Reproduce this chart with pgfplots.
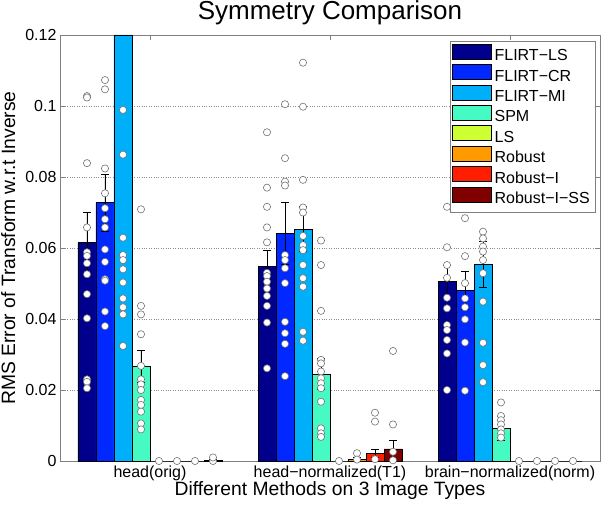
\documentclass[border=0pt]{standalone}
\usepackage{fontspec}
\setmainfont{Liberation Sans}
\usepackage{pgfplots}
\pgfplotsset{compat=1.18}
\definecolor{cA}{RGB}{0,0,140}
\definecolor{cB}{RGB}{0,40,255}
\definecolor{cC}{RGB}{0,175,250}
\definecolor{cD}{RGB}{70,250,195}
\definecolor{cE}{RGB}{205,255,50}
\definecolor{cF}{RGB}{255,155,0}
\definecolor{cG}{RGB}{255,30,0}
\definecolor{cH}{RGB}{128,0,0}
\definecolor{axgray}{RGB}{128,128,128}
\pgfplotsset{
  mybar/.style={ybar, bar width=0.1, bar shift=0pt, draw=black, line width=0.7pt, fill=#1,
    error bars/.cd, y dir=both, y explicit,
    error bar style={black, line width=0.7pt},
    error mark options={rotate=90, black, mark size=4pt, line width=0.7pt},
    /pgfplots/.cd,
    legend image code/.code={\draw[fill=#1, draw=black, line width=0.7pt] (0pt,-2.5pt) rectangle (39pt,12.5pt);}},
  mypts/.style={only marks, mark=*, mark size=3.6pt,
    mark options={fill=white, draw=black!55, line width=0.6pt}, forget plot}
}
\begin{document}
\begin{tikzpicture}
\useasboundingbox (-60pt,-43pt) rectangle (542pt,461pt);
\begin{axis}[
  at={(0pt,0pt)}, anchor=south west, scale only axis,
  width=540pt, height=426pt, clip=false,
  xmin=0.5, xmax=3.5, ymin=0, ymax=0.12,
  xtick={1,2,3},
  xticklabels={head(orig), head−normalized(T1), brain−normalized(norm)},
  ytick={0,0.02,0.04,0.06,0.08,0.1,0.12},
  yticklabels={0,0.02,0.04,0.06,0.08,0.1,0.12},
  tick align=inside, major tick length=5pt,
  axis line style={draw=axgray},
  every tick/.style={draw=axgray},
  ymajorgrids, grid style={dotted, black!45},
  tick label style={font=\fontsize{16}{16}\selectfont},
  xticklabel style={anchor=base, yshift=-16pt},
  title={Symmetry Comparison},
  every axis title/.style={at={(axis description cs:0.5,1)}, anchor=base, yshift=15pt,
    font=\fontsize{26}{26}\selectfont},
  xlabel={Different Methods on 3 Image Types},
  every axis x label/.style={at={(axis description cs:0.5,0)}, anchor=base, yshift=-34pt,
    font=\fontsize{19.3}{19.3}\selectfont},
  ylabel={RMS Error of Transform w.r.t Inverse},
  every axis y label/.style={at={(axis description cs:-0.0833,0.5)}, rotate=90, anchor=base,
    font=\fontsize{19.3}{19.3}\selectfont},
  legend style={at={(axis description cs:0.9907,0.986)}, anchor=north east,
    draw=axgray, fill=white, font=\fontsize{16}{16}\selectfont,
    nodes={text height=12pt, text depth=3.8pt, inner ysep=2.4pt, inner xsep=2.5pt},
    row sep=-2.7pt, inner sep=2.5pt},
  legend cell align=left,
]
\addplot[mybar=cA] coordinates {(0.65,0.0615) +- (0,0.0086) (1.65,0.0547) +- (0,0.0047) (2.65,0.0505) +- (0,0.0047)};
\addlegendentry{FLIRT−LS}
\addplot[mybar=cB] coordinates {(0.75,0.0728) +- (0,0.0080) (1.75,0.0641) +- (0,0.0087) (2.75,0.0480) +- (0,0.0053)};
\addlegendentry{FLIRT−CR}
\addplot[mybar=cC] coordinates {(0.85,0.1200) +- (0,0) (1.85,0.0653) +- (0,0.0063) (2.85,0.0554) +- (0,0.0064)};
\addlegendentry{FLIRT−MI}
\addplot[mybar=cD] coordinates {(0.95,0.0266) +- (0,0.0045) (1.95,0.0245) +- (0,0.0044) (2.95,0.0092) +- (0,0.0033)};
\addlegendentry{SPM}
\addplot[mybar=cE] coordinates {(1.05,0) +- (0,0) (2.05,0) +- (0,0) (3.05,0) +- (0,0)};
\addlegendentry{LS}
\addplot[mybar=cF] coordinates {(1.15,0) +- (0,0) (2.15,0.0005) +- (0,0.0005) (3.15,0) +- (0,0)};
\addlegendentry{Robust}
\addplot[mybar=cG] coordinates {(1.25,0) +- (0,0) (2.25,0.0022) +- (0,0.0012) (3.25,0) +- (0,0)};
\addlegendentry{Robust−I}
\addplot[mybar=cH] coordinates {(1.35,0.0002) +- (0,0.0002) (2.35,0.0034) +- (0,0.0023) (3.35,0) +- (0,0)};
\addlegendentry{Robust−I−SS}
% individual points, group 1
\addplot[mypts] coordinates {
(0.65,0.1028) (0.65,0.1024) (0.65,0.0839) (0.65,0.0658) (0.65,0.0588) (0.65,0.0578) (0.65,0.0557)
(0.65,0.0526) (0.65,0.0470) (0.65,0.0402) (0.65,0.0230) (0.65,0.0223) (0.65,0.0205)
(0.75,0.1073) (0.75,0.1047) (0.75,0.0824) (0.75,0.0754) (0.75,0.0712) (0.75,0.0681) (0.75,0.0658)
(0.75,0.0596) (0.75,0.0561) (0.75,0.0512) (0.75,0.0508) (0.75,0.0421) (0.75,0.0380)
(0.85,0.0989) (0.85,0.0863) (0.85,0.0629) (0.85,0.0580) (0.85,0.0566) (0.85,0.0540) (0.85,0.0503)
(0.85,0.0458) (0.85,0.0433) (0.85,0.0413) (0.85,0.0324)
(0.95,0.0709) (0.95,0.0437) (0.95,0.0413) (0.95,0.0357) (0.95,0.0268) (0.95,0.0230) (0.95,0.0216)
(0.95,0.0200) (0.95,0.0172) (0.95,0.0158) (0.95,0.0139) (0.95,0.0106) (0.95,0.0089)
(1.05,0) (1.15,0) (1.25,0) (1.35,0) (1.35,0.0010)
};
% group 2
\addplot[mypts] coordinates {
(1.65,0.0926) (1.65,0.0770) (1.65,0.0716) (1.65,0.0658) (1.65,0.0616) (1.65,0.0530) (1.65,0.0521)
(1.65,0.0505) (1.65,0.0486) (1.65,0.0465) (1.65,0.0437) (1.65,0.0390) (1.65,0.0261)
(1.75,0.1005) (1.75,0.0853) (1.75,0.0787) (1.75,0.0776) (1.75,0.0580) (1.75,0.0566) (1.75,0.0543)
(1.75,0.0501) (1.75,0.0392) (1.75,0.0360) (1.75,0.0330) (1.75,0.0239)
(1.85,0.1122) (1.85,0.0998) (1.85,0.0792) (1.85,0.0714) (1.85,0.0700) (1.85,0.0634) (1.85,0.0608)
(1.85,0.0594) (1.85,0.0552) (1.85,0.0515) (1.85,0.0491) (1.85,0.0364) (1.85,0.0339)
(1.95,0.0621) (1.95,0.0552) (1.95,0.0423) (1.95,0.0285) (1.95,0.0275) (1.95,0.0252) (1.95,0.0233)
(1.95,0.0219) (1.95,0.0205) (1.95,0.0167) (1.95,0.0092) (1.95,0.0078) (1.95,0.0068)
(2.05,0) (2.15,0.0022) (2.15,0.0004)
(2.25,0.0136) (2.25,0.0111) (2.25,0.0005)
(2.35,0.0310) (2.35,0.0103) (2.35,0.0026) (2.35,0.0002)
};
% group 3
\addplot[mypts] coordinates {
(2.65,0.0716) (2.65,0.0602) (2.65,0.0552) (2.65,0.0516) (2.65,0.0460) (2.65,0.0430) (2.65,0.0383)
(2.65,0.0369) (2.65,0.0341) (2.65,0.0303) (2.65,0.0200)
(2.75,0.0684) (2.75,0.0577) (2.75,0.0501) (2.75,0.0458) (2.75,0.0433) (2.75,0.0399) (2.75,0.0334)
(2.75,0.0198)
(2.85,0.0646) (2.85,0.0627) (2.85,0.0604) (2.85,0.0590) (2.85,0.0566) (2.85,0.0529) (2.85,0.0449)
(2.85,0.0333) (2.85,0.0270) (2.85,0.0222)
(2.95,0.0165) (2.95,0.0127) (2.95,0.0115) (2.95,0.0103) (2.95,0.0089) (2.95,0.0078) (2.95,0.0066)
(3.05,0) (3.15,0) (3.25,0) (3.35,0)
};
\end{axis}
\end{tikzpicture}
\end{document}
